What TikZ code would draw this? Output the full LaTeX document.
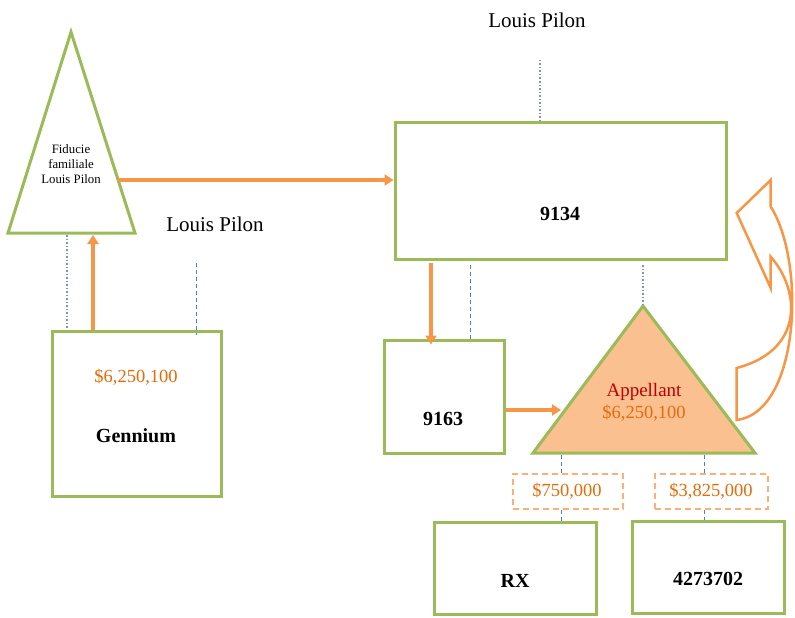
\documentclass[tikz,border=0pt]{standalone}
\usepackage{fontspec}
\setmainfont{Liberation Serif}
\usetikzlibrary{arrows.meta}
\definecolor{grn}{HTML}{9BBB59}
\definecolor{org}{HTML}{F79646}
\definecolor{lorg}{HTML}{F9B07A}
\definecolor{pfill}{HTML}{FAC090}
\definecolor{otext}{HTML}{E46C0A}
\definecolor{rtext}{HTML}{C00000}
\definecolor{bl}{HTML}{4F81BD}
\definecolor{gbl}{HTML}{7F95B8}
\begin{document}
\begin{tikzpicture}[x=1pt,y=-1pt,
  box/.style={draw=grn,line width=3,fill=white,inner sep=0},
  tri/.style={draw=grn,line width=3,line join=miter},
  oarrow/.style={draw=org,line width=3.5,-{Triangle[length=9,width=11]}},
  dotl/.style={draw=gbl,line width=1.2,dash pattern=on 1.5 off 2},
  dashl/.style={draw=bl,line width=1,dash pattern=on 4 off 3},
  amt/.style={draw=lorg,line width=1.5,dash pattern=on 6 off 4,inner sep=0,fill=white},
  lbl/.style={inner sep=0,font=\fontsize{21}{24}\selectfont},
  bold/.style={inner sep=0,font=\fontsize{20}{24}\selectfont\bfseries},
  money/.style={inner sep=0,text=otext,font=\fontsize{18.5}{22}\selectfont}]
\useasboundingbox (0,0) rectangle (795,618);

% top texts
\node[lbl] (lp1) at (537,20) {Louis Pilon};
\node[lbl] (lp2) at (215,224) {Louis Pilon};

% Fiducie triangle
\draw[tri] (71,32) -- (135,233) -- (8,233) -- cycle;
\coordinate (fidR) at (118,180);
\coordinate (fidB1) at (93,235);
\coordinate (fidB2) at (67,235);
\node[inner sep=0,align=center,font=\fontsize{12.8}{15}\selectfont] (fid) at (71,164) {Fiducie\\familiale\\Louis Pilon};

% boxes
\node[box,minimum width=331,minimum height=137] (b9134) at (560.5,190.5) {};
\node[bold] (t9134) at (560,214) {9134};
\node[box,minimum width=120,minimum height=113] (b9163) at (444,396.5) {};
\node[bold] (t9163) at (443,419) {9163};
\node[box,minimum width=169,minimum height=165] (bgen) at (136.5,413.5) {};
\node[money] (mgen) at (136,377) {\$6,250,100};
\node[bold] (tgen) at (136,436) {Gennium};
\node[box,minimum width=162,minimum height=92] (brx) at (515,568) {};
\node[bold] (trx) at (515,581) {RX};
\node[box,minimum width=152,minimum height=92] (b427) at (708,567) {};
\node[bold] (t427) at (708,579) {4273702};

% Appellant triangle
\draw[tri,fill=pfill] (643,306) -- (755,453) -- (533,453) -- cycle;
\coordinate (appTop) at (643,306);
\coordinate (appL) at (561,410);
\coordinate (appB1) at (561,455);
\coordinate (appB2) at (704,455);
\node[inner sep=0,text=rtext,font=\fontsize{19}{22}\selectfont] (tapp) at (644,392) {Appellant};
\node[money] (mapp) at (644,413) {\$6,250,100};

% amount boxes
\node[amt,minimum width=110,minimum height=35] (a750) at (568,491.5) {};
\node[money] (t750) at (567,491) {\$750,000};
\node[amt,minimum width=113,minimum height=35] (a3825) at (711.5,491.5) {};
\node[money] (t3825) at (711,491) {\$3,825,000};

% dotted / dashed lines
\coordinate (lpTopEnd) at (540,60);
\draw[dotl] (lpTopEnd) -- (b9134.north -| lpTopEnd);
\coordinate (d2) at (643,265);
\draw[dotl] (d2) -- (appTop);
\draw[dotl] (fidB2) -- (bgen.north -| fidB2);
\coordinate (d4) at (470,265);
\draw[dashl] (d4) -- (b9163.north -| d4);
\coordinate (d5) at (196,263);
\draw[dashl] (d5) -- ([yshift=-5]bgen.north -| d5);
\draw[dashl] (appB1) -- (a750.north -| appB1);
\draw[dashl] (a750.south -| appB1) -- (brx.north -| appB1);
\draw[dashl] (appB2) -- (a3825.north -| appB2);
\draw[dashl] (a3825.south -| appB2) -- (b427.north -| appB2);

% orange arrows
\draw[oarrow] (fidR) -- (b9134.west |- fidR);
\draw[oarrow] (bgen.north -| fidB1) -- (fidB1);
\coordinate (a1) at (431,263);
\draw[oarrow] (a1) -- ([yshift=-6]b9163.north -| a1);
\coordinate (a2) at (504,410);
\draw[oarrow] (b9163.east |- a2) -- (appL);

% curved arrow
\draw[org,line width=2.5,line join=miter]
  (736.7,420) .. controls (800,412) and (806,262) .. (770.7,206.7)
  -- (770.7,180) -- (736.7,213) -- (770.7,288) -- (770.7,256.7)
  .. controls (800,290) and (805,350) .. (736.7,368) -- cycle;
\end{tikzpicture}
\end{document}
